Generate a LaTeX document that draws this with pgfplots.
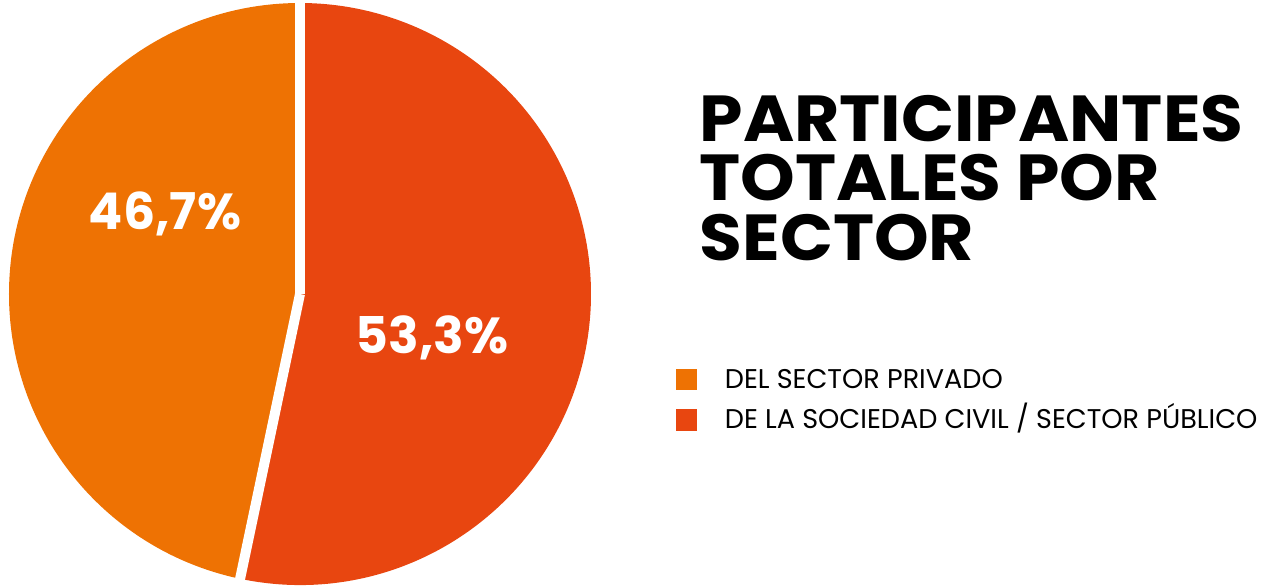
\documentclass[border=0pt]{standalone}
\usepackage{pgfplots}
\usepackage{pgfplotstable}
\pgfplotsset{compat=1.18}
\usepackage{fontspec}
\setmainfont{Poppins}
\definecolor{privado}{HTML}{EE7203}
\definecolor{civil}{HTML}{E84610}

\pgfplotstableread{
sector share
privado 46.7
civil 53.3
}\sharetable

\begin{document}
\begin{tikzpicture}
\useasboundingbox (0,0) rectangle (12.73,5.85);
\pgfplotstablegetelem{0}{share}\of\sharetable \let\sharepriv\pgfplotsretval
\pgfplotstablegetelem{1}{share}\of\sharetable \let\shareciv\pgfplotsretval
\pgfmathsetmacro{\cut}{90-3.6*\shareciv}
\begin{axis}[
  scale only axis, width=5.82cm, height=5.82cm,
  at={(3.00cm,2.91cm)}, anchor=center,
  xmin=-1, xmax=1, ymin=-1, ymax=1,
  hide axis, clip=false,
  legend style={at={(1.144,0.375)}, anchor=north west, draw=none, fill=none,
    inner sep=0pt, row sep=4.4pt,
    font=\fontsize{7.7pt}{9pt}\selectfont,
    nodes={inner sep=0pt, text height=6pt, text depth=1pt}},
  legend cell align=left,
  legend image code/.code={\fill[#1] (0cm,-0.1cm) rectangle (0.2cm,0.1cm);},
]
  \addlegendimage{privado}
  \addlegendentry{\hspace{0.28cm}DEL SECTOR PRIVADO}
  \addlegendimage{civil}
  \addlegendentry{\hspace{0.28cm}DE LA SOCIEDAD CIVIL / SECTOR PÚBLICO}
  % wedges
  \fill[privado] (axis cs:0,0) -- (axis cs:0,1) arc[start angle=90, end angle={\cut+360}, radius=2.91cm] -- cycle;
  \fill[civil] (axis cs:0,0) -- (axis cs:{cos(\cut)},{sin(\cut)}) arc[start angle=\cut, end angle=90, radius=2.91cm] -- cycle;
  % white separators
  \draw[white, line width=0.1cm] (axis cs:0,0) -- (axis cs:0,1.02);
  \draw[white, line width=0.1cm] (axis cs:0,0) -- (axis cs:{1.02*cos(\cut)},{1.02*sin(\cut)});
  \node[white, font=\fontsize{14.4pt}{16pt}\selectfont\bfseries] at (axis cs:-0.464,0.275)
    {\pgfmathprintnumber[fixed,precision=1,use comma,fixed zerofill,assume math mode=true]{\sharepriv}\%};
  \node[white, font=\fontsize{14.4pt}{16pt}\selectfont\bfseries] at (axis cs:0.454,-0.151)
    {\pgfmathprintnumber[fixed,precision=1,use comma,fixed zerofill,assume math mode=true]{\shareciv}\%};
\end{axis}
\node[anchor=north west, align=left, inner sep=0pt,
  font=\fontsize{18.5pt}{17pt}\selectfont\bfseries] at (6.99,4.91)
  {\scalebox{1.07}[1]{PARTICIPANTES}\\\scalebox{1.07}[1]{TOTALES POR}\\\scalebox{1.07}[1]{SECTOR}};
\end{tikzpicture}
\end{document}
